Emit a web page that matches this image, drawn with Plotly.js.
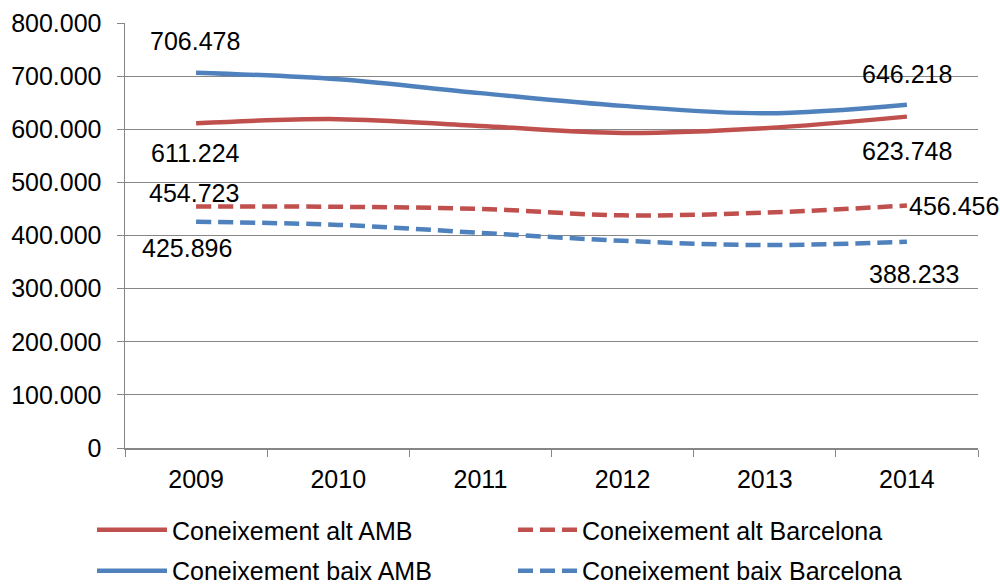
<!DOCTYPE html>
<html>
<head>
<meta charset="utf-8">
<script src="https://cdn.plot.ly/plotly-3.0.1.min.js"></script>
<style>html,body{margin:0;padding:0;background:#fff;}#chart{width:1000px;height:585px;}</style>
</head>
<body>
<div id="chart"></div>
<script>
const years = ['2009', '2010', '2011', '2012', '2013', '2014'];
const altAMB = [611224, 619000, 606000, 593000, 602000, 623748];
const altBCN = [454723, 454000, 450000, 438000, 443000, 456456];
const baixAMB = [706478, 694000, 668000, 644000, 630000, 646218];
const baixBCN = [425896, 420000, 405000, 390000, 382000, 388233];
const seriesNames = ['Coneixement alt AMB', 'Coneixement alt Barcelona', 'Coneixement baix AMB', 'Coneixement baix Barcelona'];

const RED = '#C0504D', BLUE = '#4F81BD';
const FONT = 'Liberation Sans, Arial, sans-serif';

function fmt(v) { return String(v).replace(/\B(?=(\d{3})+(?!\d))/g, '.'); }

const series = [
  {y: altAMB, name: seriesNames[0], color: RED, dash: 'solid', legend: 'legend'},
  {y: altBCN, name: seriesNames[1], color: RED, dash: '15px,7px', legend: 'legend'},
  {y: baixAMB, name: seriesNames[2], color: BLUE, dash: 'solid', legend: 'legend2'},
  {y: baixBCN, name: seriesNames[3], color: BLUE, dash: '15px,7px', legend: 'legend2'}
];

const traces = series.map(s => ({
  type: 'scatter', mode: 'lines', x: years, y: s.y, name: s.name,
  line: {color: s.color, width: 4.5, dash: s.dash, shape: 'spline', smoothing: 1},
  legend: s.legend, hoverinfo: 'skip'
}));

// label placement styles for first/last points of each series
const labelStyle = [
  [{xshift: -1, yshift: -30}, {xshift: 0, yshift: -34}],
  [{xshift: -2, yshift: 13}, {xshift: 0, yshift: 0, xanchor: 'left'}],
  [{xshift: -1, yshift: 32}, {xshift: 0, yshift: 31}],
  [{xshift: -9, yshift: -26}, {xshift: 7, yshift: -32}]
];
const annotations = [];
series.forEach((s, i) => {
  [0, years.length - 1].forEach((idx, j) => {
    const st = labelStyle[i][j];
    annotations.push({
      // category axis: position given as the category's index
      x: years.indexOf(years[idx]), y: s.y[idx], xref: 'x', yref: 'y', text: fmt(s.y[idx]),
      showarrow: false, xanchor: st.xanchor || 'center', yanchor: 'middle',
      xshift: st.xshift, yshift: st.yshift,
      font: {family: FONT, size: 25, color: '#000'}
    });
  });
});

const layout = {
  width: 1000, height: 585,
  margin: {l: 125, r: 22, t: 23, b: 137, autoexpand: false},
  paper_bgcolor: '#fff', plot_bgcolor: '#fff',
  separators: ',.',
  font: {family: FONT, size: 25, color: '#000'},
  showlegend: true,
  xaxis: {
    type: 'category', range: [-0.5, 5.5], tickson: 'boundaries',
    ticks: 'outside', ticklen: 7, tickcolor: '#868686', tickwidth: 1,
    showline: true, linecolor: '#868686', linewidth: 1.5, showgrid: false,
    tickfont: {family: FONT, size: 25, color: '#000'}, ticklabelstandoff: 8
  },
  yaxis: {
    range: [0, 800000], dtick: 100000, tickformat: ',',
    ticks: 'outside', ticklen: 7, tickcolor: '#868686', tickwidth: 1,
    showline: true, linecolor: '#868686', linewidth: 1.5,
    showgrid: true, gridcolor: '#868686', gridwidth: 1, zeroline: false,
    tickfont: {family: FONT, size: 25, color: '#000'}, ticklabelstandoff: 10
  },
  legend: {
    orientation: 'h', x: -0.0387, xanchor: 'left', y: -0.193, yanchor: 'middle',
    itemwidth: 70, entrywidth: 325, entrywidthmode: 'pixels',
    font: {family: FONT, size: 25, color: '#000'}, bgcolor: 'rgba(0,0,0,0)'
  },
  legend2: {
    orientation: 'h', x: -0.0387, xanchor: 'left', y: -0.2894, yanchor: 'middle',
    itemwidth: 70, entrywidth: 325, entrywidthmode: 'pixels',
    font: {family: FONT, size: 25, color: '#000'}, bgcolor: 'rgba(0,0,0,0)'
  },
  annotations: annotations
};

Plotly.newPlot('chart', traces, layout, {staticPlot: true, displayModeBar: false}).then(() => {
  document.querySelectorAll('.legendlines path').forEach(p => {
    const da = p.style.strokeDasharray;
    const dashed = da && da !== 'none' && da !== '';
    p.setAttribute('d', dashed ? 'M16,0h60' : 'M5,0h70');
  });
});
</script>
</body>
</html>
